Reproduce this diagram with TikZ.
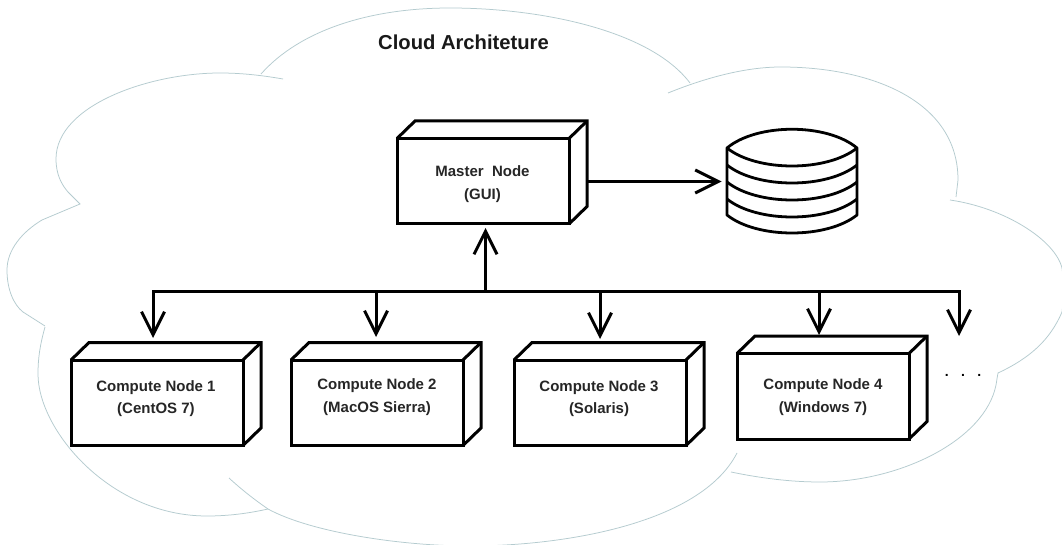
\documentclass[tikz,border=0pt]{standalone}
\usepackage{fontspec}
\setmainfont{Liberation Sans}
\usetikzlibrary{arrows.meta}
\definecolor{cloudc}{HTML}{B4CBCF}
\tikzset{
  front/.style={draw=black,line width=3pt,fill=white,minimum width=172pt,minimum height=85.5pt,inner sep=0pt,outer sep=0pt,anchor=north west},
  boxtext/.style={inner sep=0pt,align=center,text=black!85,font=\fontsize{15}{22.5}\selectfont\bfseries},
  depth/.style={draw=black,line width=3pt,line join=miter},
  link/.style={draw=black,line width=3pt,line join=miter},
  flow/.style={link,-{Straight Barb[length=23pt,width=23pt,line width=3pt]}},
  cloudline/.style={draw=cloudc,line width=0.75pt},
  dbline/.style={draw=black,line width=2.8pt,line join=round},
  title/.style={font=\fontsize{20.2}{24}\selectfont\bfseries,text=black!90,inner sep=0pt}
}
\newcommand{\solidbox}[3]{%
  \node[front] (#1) at (#2,#3) {};
  \draw[depth] (#1.north west) -- ++(18,-17.5) -- ++(172,0) -- ++(0,85.5) -- (#1.south east);
  \draw[depth] (#1.north east) -- ++(18,-17.5);
}
\begin{document}
\begin{tikzpicture}[x=1pt,y=-1pt]
\useasboundingbox (0,0) rectangle (1062,545);
\fill[white] (0,0) rectangle (1062,545);
% cloud
\draw[cloudline] (283,79) .. controls (260,75) and (240,73) .. (220,73)
  .. controls (150,73) and (56,105) .. (56,159)
  .. controls (56,175) and (62,185) .. (68,192) -- (80,204) -- (42,220)
  .. controls (22,232) and (7,250) .. (7,270)
  .. controls (7,290) and (14,305) .. (23,312) -- (45,326);
\draw[cloudline] (45,327) .. controls (40,345) and (38,358) .. (38,374)
  .. controls (38,430) and (110,516) .. (207,516)
  .. controls (230,516) and (250,513) .. (268,509);
\draw[cloudline] (229,478) .. controls (242,490) and (255,500) .. (268,509)
  .. controls (310,532) and (400,546) .. (470,546)
  .. controls (560,546) and (700,525) .. (737,453);
\draw[cloudline] (731,472) .. controls (760,478) and (790,482) .. (820,482)
  .. controls (900,482) and (985,440) .. (996,385)
  .. controls (997,380) and (997,377) .. (998,373)
  .. controls (1030,358) and (1050,340) .. (1062,312)
  .. controls (1064,295) and (1064,285) .. (1062,268)
  .. controls (1055,240) and (1005,208) .. (950,200);
\draw[cloudline] (956,197) -- (958,180)
  .. controls (958,100) and (870,67) .. (781,67)
  .. controls (745,67) and (705,78) .. (668,93);
\draw[cloudline] (690,83) .. controls (650,30) and (540,8) .. (450,8)
  .. controls (370,8) and (300,30) .. (261,74);
\node[title] (cloudtitle) at (463.5,42) {Cloud Architeture};
% boxes
\solidbox{master}{397}{138.5}
\node[boxtext] (mastertext) at (482.5,184) {Master\ \ Node\\(GUI)};
\solidbox{cnone}{71}{360}
\node[boxtext] (cnonetext) at (156,398.5) {Compute Node 1\\(CentOS 7)};
\solidbox{cntwo}{291}{360}
\node[boxtext] (cntwotext) at (377,397) {Compute Node 2\\(MacOS Sierra)};
\solidbox{cnthree}{514}{360}
\node[boxtext] (cnthreetext) at (599,398.5) {Compute Node 3\\(Solaris)};
\solidbox{cnfour}{737}{353.5}
\node[boxtext] (cnfourtext) at (823,397) {Compute Node 4\\(Windows 7)};
% database
\node[minimum width=130pt,minimum height=104pt,inner sep=0pt,outer sep=0pt] (db) at (792,181) {};
\draw[dbline,fill=white] (727,148) -- (727,215) .. controls (757,239) and (827,239) .. (857,215) -- (857,148)
  .. controls (827,123) and (757,123) .. (727,148) -- cycle;
\draw[dbline] (727,148) .. controls (757,172) and (827,172) .. (857,148);
\foreach \yy in {165,182,199}
  \draw[dbline] (727,\yy) .. controls (757,\yy+24) and (827,\yy+24) .. (857,\yy);
\node[inner sep=0pt,text=black,font=\fontsize{14}{14}\selectfont\bfseries] (dots) at (963,375.5) {\spaceskip=11pt . . .};
% connectors
\coordinate (masterout) at (587,181.5);
\coordinate (bushub) at (485.5,291);
\coordinate (mastertip) at (485.5,228);
\coordinate (dropa) at (153,291);
\coordinate (dropb) at (376,291);
\coordinate (dropc) at (600,291);
\coordinate (dropd) at (819,291);
\coordinate (drope) at (959,291);
\coordinate (tipa) at (153,338);
\coordinate (tipb) at (376,337);
\coordinate (tipc) at (600,339);
\coordinate (tipd) at (819,335);
\coordinate (tipe) at (959,336);
\draw[flow] (masterout) -- (721.5,181.5);
\draw[flow] (bushub) -- (mastertip);
\draw[link] (tipa) ++(0,-10) -- (dropa) -- (drope) -- ++(0,10);
\draw[flow] (dropa) -- (tipa);
\draw[flow] (dropb) -- (tipb);
\draw[flow] (dropc) -- (tipc);
\draw[flow] (dropd) -- (tipd);
\draw[flow] (drope) -- (tipe);
\end{tikzpicture}
\end{document}
